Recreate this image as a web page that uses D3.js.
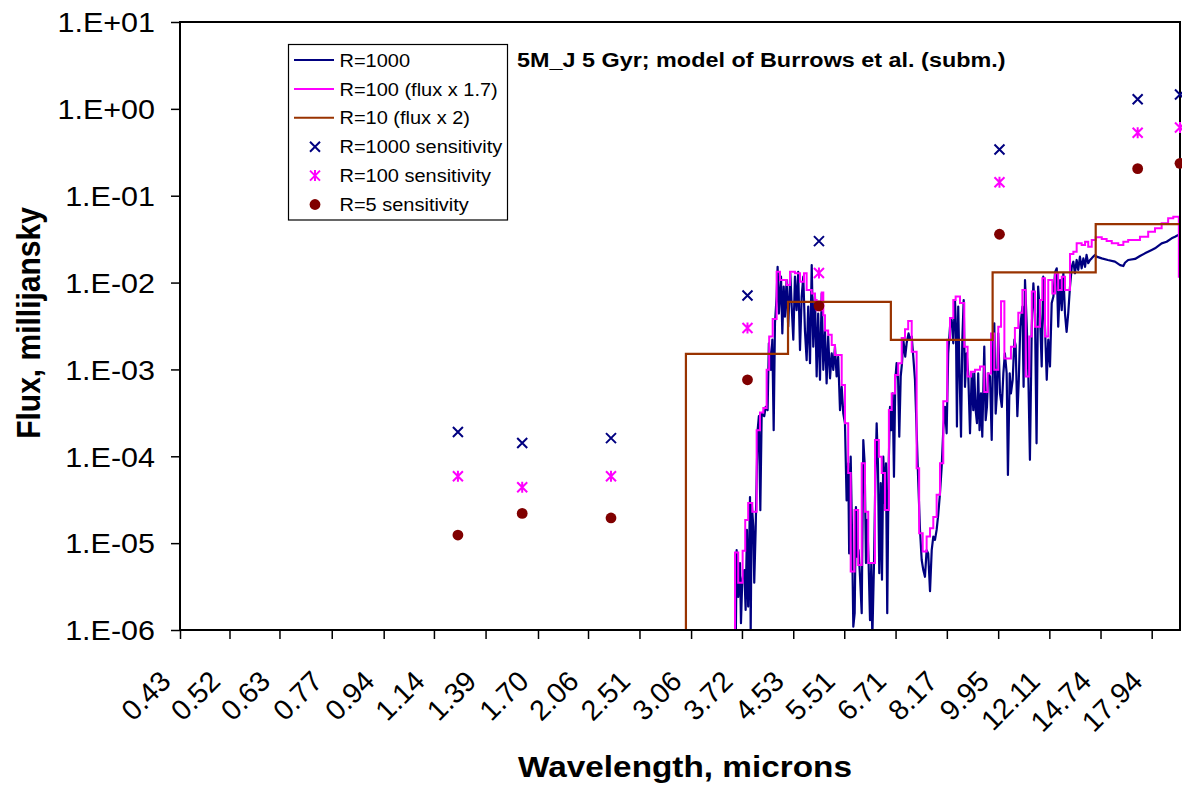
<!DOCTYPE html>
<html><head><meta charset="utf-8">
<script src="https://cdn.jsdelivr.net/npm/d3@7"></script>
<style>
body{margin:0;background:#fff}
svg{display:block}
text{font-family:"Liberation Sans",Arial,sans-serif;fill:#000}
</style>
</head><body>
<svg id="chart" width="1182" height="789"></svg>
<script>
// ---------- DATA ----------
const xTickLabels = ["0.43","0.52","0.63","0.77","0.94","1.14","1.39","1.70","2.06","2.51","3.06","3.72","4.53","5.51","6.71","8.17","9.95","12.11","14.74","17.94"];
const yTickValues = [1e1,1e0,1e-1,1e-2,1e-3,1e-4,1e-5,1e-6];
const yTickLabels = ["1.E+01","1.E+00","1.E-01","1.E-02","1.E-03","1.E-04","1.E-05","1.E-06"];

const seriesNames = ["R=1000","R=100 (flux x 1.7)","R=10 (flux x 2)","R=1000 sensitivity","R=100 sensitivity","R=5 sensitivity"];
const titleText = "5M_J 5 Gyr; model of Burrows et al. (subm.)";

// R=1000 spectrum
const r1000Wavelength = [3.631,3.645,3.667,3.692,3.706,3.725,3.754,3.773,3.792,3.810,3.837,3.847,3.862,3.886,3.900,3.921,3.951,3.970,3.992,4.013,4.053,4.075,4.105,4.125,4.159,4.180,4.202,4.223,4.250,4.266,4.287,4.322,4.344,4.367,4.388,4.416,4.443,4.479,4.503,4.531,4.560,4.589,4.617,4.649,4.679,4.708,4.738,4.769,4.798,4.831,4.863,4.892,4.924,4.956,4.985,5.020,5.053,5.084,5.117,5.149,5.180,5.217,5.251,5.283,5.317,5.351,5.383,5.421,5.456,5.490,5.525,5.560,5.594,5.615,5.648,5.676,5.705,5.735,5.763,5.791,5.822,5.854,5.892,5.928,5.959,5.989,6.018,6.050,6.083,6.113,6.137,6.177,6.207,6.240,6.271,6.303,6.338,6.369,6.401,6.435,6.467,6.499,6.533,6.568,6.601,6.636,6.669,6.703,6.737,6.771,6.806,6.844,6.878,6.912,6.964,7.001,7.053,7.092,7.139,7.182,7.229,7.275,7.319,7.370,7.418,7.464,7.512,7.560,7.606,7.659,7.709,7.756,7.806,7.856,7.903,7.958,8.010,8.059,8.112,8.163,8.213,8.270,8.324,8.375,8.429,8.461,8.493,8.535,8.580,8.627,8.670,8.716,8.759,8.815,8.869,8.930,8.988,9.043,9.078,9.126,9.171,9.216,9.264,9.315,9.361,9.433,9.483,9.530,9.576,9.643,9.706,9.765,9.803,9.855,9.903,9.953,10.02,10.09,10.15,10.21,10.28,10.33,10.40,10.45,10.52,10.59,10.64,10.71,10.77,10.83,10.92,10.97,11.03,11.10,11.17,11.24,11.32,11.39,11.46,11.53,11.60,11.68,11.76,11.83,11.91,11.99,12.06,12.14,12.22,12.30,12.38,12.46,12.53,12.62,12.70,12.78,12.86,12.94,13.02,13.11,13.20,13.28,13.36,13.45,13.53,13.62,13.71,13.80,13.89,13.97,14.06,14.16,14.25,14.34,14.43,14.52,14.81,15.16,15.58,15.89,16.09,16.19,16.39,16.83,17.15,17.48,17.94,18.17,18.64,19.00,19.37,19.62,19.87,20.0];
const r1000Flux = [5e-7,8.3e-6,2.4e-6,5.9e-6,1.2e-6,3.8e-6,4.9e-6,1.7e-6,1.42e-5,1.86e-6,3.4e-5,9e-7,2.9e-5,1.55e-5,3.5e-6,1.42e-5,2.0e-4,2.9e-4,2.4e-5,3.1e-4,2.9e-4,3.7e-4,3.4e-4,2.0e-3,9.9e-4,2.2e-3,2.0e-4,3.4e-3,6.9e-3,1.52e-2,4.4e-3,1.17e-2,2.6e-3,9.0e-3,4.05e-3,1.07e-2,3.1e-3,1.28e-2,5.3e-3,2.2e-3,1.17e-2,4.8e-3,1.33e-2,1.67e-3,6.9e-3,1.17e-2,2.8e-3,1.28e-3,5.3e-3,1.18e-3,1.59e-2,1.83e-3,6.9e-3,8.3e-4,4.4e-3,7.6e-4,7.5e-3,9.9e-4,2.8e-3,6.9e-4,2.4e-3,7.9e-4,1.53e-3,9.9e-4,1.83e-3,8.3e-4,1.40e-3,3.4e-4,6.3e-4,3.1e-4,2.4e-4,3.1e-5,8.3e-5,7.6e-6,9.9e-5,1.42e-5,1.09e-6,1.56e-6,2.6e-5,7.0e-6,8.3e-6,4.1e-6,1.56e-6,1.54e-4,8.3e-5,5.9e-6,1.85e-5,5.9e-6,1.3e-6,5.9e-6,8e-7,5.9e-6,4.9e-5,2.4e-4,8.3e-5,4.5e-6,4.9e-5,3.8e-6,9.9e-5,2.9e-5,8.3e-5,1.56e-6,7.0e-5,3.7e-4,2.0e-4,5.3e-4,5.8e-5,7.6e-4,1.18e-3,9.9e-4,1.68e-4,8.3e-4,1.18e-3,2.2e-3,1.40e-3,2.0e-3,2.6e-3,2.2e-3,2.4e-3,1.40e-3,7.6e-4,2.0e-4,5.3e-5,1.42e-5,6.4e-6,4.9e-6,4.1e-6,8.3e-6,7.6e-6,2.8e-6,8.3e-6,1.19e-5,1.09e-5,1.42e-5,2.1e-5,3.75e-5,7.6e-5,2.0e-4,3.7e-4,1.84e-4,1.53e-3,3.1e-3,3.7e-3,2.0e-3,6.3e-3,3.1e-3,2.2e-4,5.3e-3,9.0e-4,1.68e-4,2.2e-3,6.3e-3,6.3e-4,1.53e-3,9.0e-4,1.84e-4,9.0e-4,3.4e-4,9.0e-4,3.4e-4,2.4e-4,9.0e-4,2.0e-4,5.3e-4,1.68e-4,1.83e-3,2.6e-4,3.7e-4,9.0e-4,8.3e-4,1.54e-4,2.2e-3,3.4e-3,3.1e-4,5.3e-4,2.6e-3,5.3e-4,3.7e-4,9.0e-4,1.53e-3,9.0e-4,6.1e-5,9.0e-4,5.3e-4,7.6e-4,2.2e-3,1.9e-3,2.9e-4,7.6e-4,3.1e-3,5.3e-3,6.3e-4,1.07e-2,3.4e-3,9.0e-4,9.1e-5,3.1e-3,9.8e-3,4.4e-3,1.41e-4,9.0e-3,4.4e-3,1.08e-3,1.17e-2,3.1e-3,7.6e-4,2.2e-3,1.08e-3,5.8e-3,6.9e-3,1.32e-2,1.46e-2,3.1e-3,1.07e-2,4.8e-3,1.28e-2,4.4e-3,2.7e-3,4.4e-3,9.0e-3,1.52e-2,1.74e-2,1.28e-2,1.82e-2,1.40e-2,1.99e-2,1.46e-2,1.90e-2,1.52e-2,2.08e-2,1.67e-2,1.82e-2,1.90e-2,1.99e-2,2.08e-2,1.99e-2,1.90e-2,1.82e-2,1.74e-2,1.59e-2,1.55e-2,1.69e-2,1.82e-2,1.87e-2,2.02e-2,2.17e-2,2.37e-2,2.48e-2,2.83e-2,2.95e-2,3.23e-2,3.37e-2,3.53e-2,3.6e-2];

// R=100 spectrum (x 1.7), stepped
const r100Wavelength = [3.594,3.622,3.667,3.730,3.767,3.810,3.871,3.936,3.987,4.038,4.090,4.130,4.186,4.250,4.305,4.416,4.474,4.560,4.649,4.721,4.769,4.863,4.924,4.956,5.053,5.084,5.117,5.180,5.251,5.317,5.456,5.525,5.594,5.648,5.731,5.813,5.892,5.966,6.041,6.200,6.293,6.362,6.442,6.540,6.611,6.695,6.778,6.870,6.957,7.043,7.139,7.275,7.346,7.447,7.560,7.659,7.756,7.856,7.958,8.059,8.182,8.270,8.375,8.451,8.594,8.736,8.848,8.964,9.102,9.280,9.433,9.555,9.680,9.803,9.953,10.06,10.19,10.45,10.61,10.75,10.92,11.06,11.21,11.32,11.46,11.68,11.79,11.91,12.06,12.25,12.38,12.53,12.70,12.86,13.11,13.28,13.45,13.71,13.89,14.06,14.25,14.47,14.81,15.09,15.39,15.78,16.09,16.39,17.15,17.70,18.17,18.64,19.11,19.49,19.91,20.0];
const r100Flux = [5e-7,7.8e-6,3.5e-6,8.2e-6,1.85e-5,2.9e-5,2.3e-5,2.0e-4,3.2e-4,3.6e-4,9.9e-4,2.4e-3,3.8e-3,1.33e-2,1.07e-2,9.4e-3,1.33e-2,1.28e-2,1.02e-2,1.28e-2,8.2e-3,7.5e-3,6.3e-3,4.8e-3,7.7e-3,4.2e-3,2.8e-3,2.5e-3,1.91e-3,1.47e-3,6.6e-4,2.4e-4,6.4e-5,4.7e-6,2.4e-5,5.6e-6,8.3e-5,2.3e-5,5.9e-6,1.54e-4,9.9e-5,6.4e-5,2.4e-5,3.4e-4,5.3e-4,8.6e-4,1.18e-3,2.3e-3,2.9e-3,3.6e-3,1.60e-3,7.3e-5,1.30e-5,8.0e-6,1.19e-5,1.48e-5,2.0e-5,3.6e-5,8.3e-5,4.3e-4,2.2e-3,3.9e-3,6.3e-3,6.9e-3,5.8e-3,1.83e-3,8.3e-4,9.4e-4,9.9e-4,1.08e-3,5.5e-4,9.0e-4,2.6e-3,9.9e-4,3.1e-3,6.1e-3,1.34e-3,1.83e-3,3.0e-3,4.5e-3,8.2e-3,8.3e-4,2.4e-3,7.9e-3,3.1e-3,6.3e-3,1.12e-2,2.4e-3,1.07e-2,7.5e-3,1.28e-2,8.2e-3,1.17e-2,8.2e-3,2.13e-2,2.27e-2,2.83e-2,2.71e-2,2.95e-2,2.59e-2,3.09e-2,3.32e-2,3.17e-2,3.01e-2,2.83e-2,2.71e-2,2.95e-2,3.09e-2,3.37e-2,3.85e-2,4.21e-2,4.81e-2,5.50e-2,5.73e-2,1.17e-2,1.17e-2];

// R=10 spectrum (x 2), stepped
const r10Wavelength = [2.8,3.0,4.44,6.59,9.74,14.47,20.0];
const r10Flux = [5e-7,1.51e-3,6.0e-3,2.19e-3,1.31e-2,4.7e-2,4.7e-2];

// sensitivities
const sensWavelength = [1.25,1.60,2.25,3.80,5.00,10.0,17.0,20.0];
const sens1000 = [1.9e-4,1.42e-4,1.62e-4,7.1e-3,3.0e-2,0.34,1.29,1.46];
const sens100  = [5.9e-5,4.4e-5,5.9e-5,3.0e-3,1.29e-2,0.143,0.53,0.61];
const sens5    = [1.24e-5,2.2e-5,1.95e-5,7.6e-4,5.4e-3,3.6e-2,0.205,0.236];

// ---------- CHART ----------
const W = 1182, H = 789;
const P = {left:180, right:1180, top:22, bottom:630};
const SX = 1.13; // horizontal text stretch
const C = {navy:"#000080", magenta:"#ff00ff", brown:"#993300", dred:"#800000"};

const svg = d3.select("#chart");
svg.append("rect").attr("width",W).attr("height",H).attr("fill","#fff");

const x = d3.scaleLog().domain([0.43,20]).range([P.left,P.right]);
const y = d3.scaleLog().domain([1e-6,10]).range([P.bottom,P.top]);

svg.append("clipPath").attr("id","plotclip").append("rect")
  .attr("x",P.left).attr("y",P.top).attr("width",P.right-P.left).attr("height",P.bottom-P.top);

// Y axis
const yAxis = d3.axisLeft(y).tickValues(yTickValues)
  .tickFormat((d,i)=>yTickLabels[i]).tickSize(9).tickPadding(0);
const gy = svg.append("g").attr("transform",`translate(${P.left},0)`).call(yAxis);
gy.attr("font-family",null).attr("font-size",null);
gy.select(".domain").remove();
gy.selectAll(".tick line").attr("stroke","#000").attr("stroke-width",1.5);
gy.selectAll(".tick text").attr("x",0).attr("dy","0.36em")
  .attr("font-size",27).attr("text-anchor","end")
  .attr("transform",`translate(-25,0) scale(${SX},1)`);

// X axis
const xTickValues = xTickLabels.map(Number);
const xAxis = d3.axisBottom(x).tickValues(xTickValues)
  .tickFormat((d,i)=>xTickLabels[i]).tickSize(9).tickPadding(0);
const gx = svg.append("g").attr("transform",`translate(0,${P.bottom})`).call(xAxis);
gx.attr("font-family",null).attr("font-size",null);
gx.select(".domain").remove();
gx.selectAll(".tick line").attr("stroke","#000").attr("stroke-width",1.5);
gx.selectAll(".tick text").attr("x",0).attr("y",0).attr("dy",null)
  .attr("font-size",28.5).attr("text-anchor","end")
  .attr("transform","translate(-8,53) rotate(-45)");

// series lines
const lineGen = d3.line().x(d=>x(d[0])).y(d=>y(d[1]));
const stepGen = d3.line().x(d=>x(d[0])).y(d=>y(d[1])).curve(d3.curveStepAfter);
const plot = svg.append("g").attr("clip-path","url(#plotclip)");

plot.append("path").datum(d3.zip(r1000Wavelength,r1000Flux))
  .attr("d",lineGen).attr("fill","none").attr("stroke",C.navy)
  .attr("stroke-width",2.2).attr("stroke-linejoin","round");
plot.append("path").datum(d3.zip(r100Wavelength,r100Flux))
  .attr("d",stepGen).attr("fill","none").attr("stroke",C.magenta)
  .attr("stroke-width",2);
plot.append("path").datum(d3.zip(r10Wavelength,r10Flux))
  .attr("d",stepGen).attr("fill","none").attr("stroke",C.brown)
  .attr("stroke-width",2.2);

// frame
svg.append("rect").attr("x",P.left).attr("y",P.top)
  .attr("width",P.right-P.left).attr("height",P.bottom-P.top)
  .attr("fill","none").attr("stroke","#000").attr("stroke-width",2);

// markers
function crossPath(s){return `M${-s},${-s}L${s},${s}M${-s},${s}L${s},${-s}`;}
function starPath(s){return `M${-s},${-s}L${s},${s}M${-s},${s}L${s},${-s}M0,${-s*1.1}L0,${s*1.1}`;}
const MS = 5;
svg.append("g").selectAll("path").data(d3.zip(sensWavelength,sens1000)).join("path")
  .attr("transform",d=>`translate(${x(d[0])},${y(d[1])})`)
  .attr("d",crossPath(MS)).attr("stroke",C.navy).attr("stroke-width",2).attr("fill","none");
svg.append("g").selectAll("path").data(d3.zip(sensWavelength,sens100)).join("path")
  .attr("transform",d=>`translate(${x(d[0])},${y(d[1])})`)
  .attr("d",starPath(MS)).attr("stroke",C.magenta).attr("stroke-width",2).attr("fill","none");
svg.append("g").selectAll("circle").data(d3.zip(sensWavelength,sens5)).join("circle")
  .attr("cx",d=>x(d[0])).attr("cy",d=>y(d[1])).attr("r",5.4).attr("fill",C.dred);

// title
svg.append("text").attr("font-size",20.7).attr("font-weight","bold")
  .attr("transform",`translate(517,67) scale(${SX},1)`).text(titleText);

// axis titles
svg.append("text").attr("font-size",29.5).attr("font-weight","bold").attr("text-anchor","middle")
  .attr("transform",`translate(685,777) scale(${SX},1)`).text("Wavelength, microns");
svg.append("text").attr("font-size",30).attr("font-weight","bold").attr("text-anchor","middle")
  .attr("transform",`translate(40,323) scale(${SX},1) rotate(-90)`).text("Flux, millijansky");

// legend
const LSX = 1.08;
const lg = svg.append("g");
lg.append("rect").attr("x",288.5).attr("y",44.5).attr("width",219).attr("height",175.5)
  .attr("fill","#fff").attr("stroke","#000").attr("stroke-width",1.2);
const rowY = i => 60 + i*28.9;
const legendItems = [
  {type:"line",color:C.navy},{type:"line",color:C.magenta},{type:"line",color:C.brown},
  {type:"cross",color:C.navy},{type:"star",color:C.magenta},{type:"dot",color:C.dred}
];
legendItems.forEach((it,i)=>{
  const cy = rowY(i);
  if(it.type==="line"){
    lg.append("line").attr("x1",294).attr("x2",334).attr("y1",cy).attr("y2",cy)
      .attr("stroke",it.color).attr("stroke-width",2);
  } else if(it.type==="cross"){
    lg.append("path").attr("transform",`translate(315,${cy})`).attr("d",crossPath(MS))
      .attr("stroke",it.color).attr("stroke-width",2).attr("fill","none");
  } else if(it.type==="star"){
    lg.append("path").attr("transform",`translate(315,${cy})`).attr("d",starPath(MS))
      .attr("stroke",it.color).attr("stroke-width",2).attr("fill","none");
  } else {
    lg.append("circle").attr("cx",315).attr("cy",cy).attr("r",5.4).attr("fill",it.color);
  }
  lg.append("text").attr("font-size",18.5)
    .attr("transform",`translate(339.5,${cy+6.6}) scale(${LSX},1)`).text(seriesNames[i]);
});
</script>
</body></html>
